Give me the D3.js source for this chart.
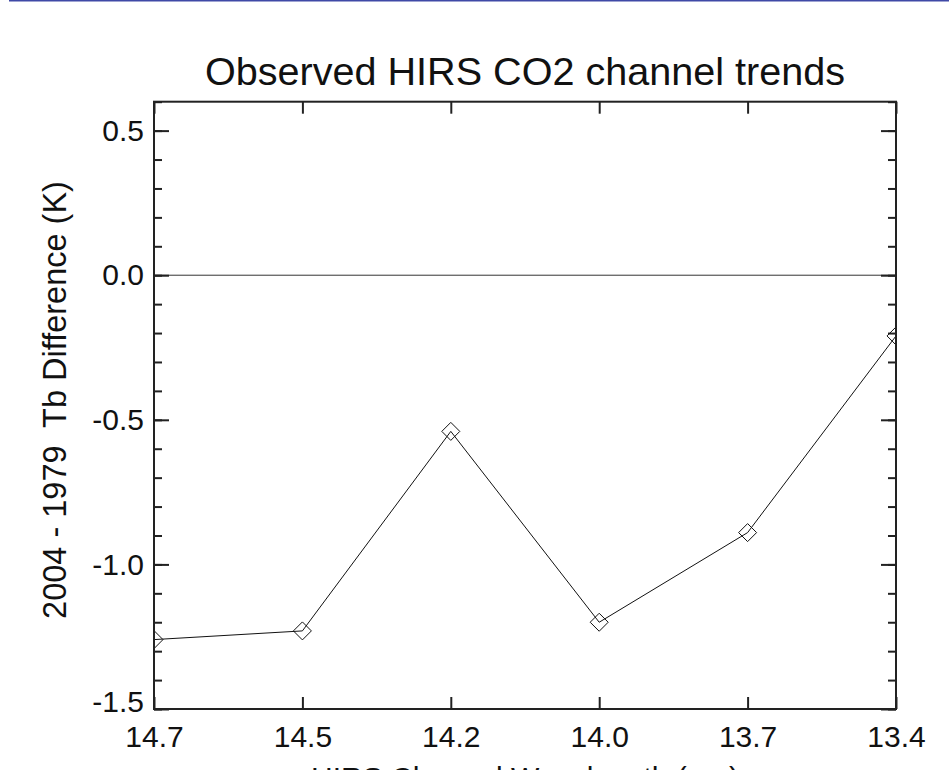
<!DOCTYPE html>
<html>
<head>
<meta charset="utf-8">
<script src="https://cdn.jsdelivr.net/npm/d3@7"></script>
<style>
  body { margin: 0; background: #fff; }
  text { font-family: "Liberation Sans", Arial, sans-serif; fill: #111; }
</style>
</head>
<body>
<script>
// HIRS channel wavelengths (um) and the 2004 - 1979 Tb difference (K)
var wavelengths = ["14.7", "14.5", "14.2", "14.0", "13.7", "13.4"];
var tbDiff = [-1.26, -1.23, -0.54, -1.20, -0.89, -0.21];
var yMajor = [-1.5, -1.0, -0.5, 0.0, 0.5];
var yMinor = d3.range(-15, 7).map(function(d) { return d / 10; });

var width = 949,
    height = 770,
    plotLeft = 154, plotRight = 896, plotTop = 101.7, plotBottom = 709;

var svg = d3.select("body").append("svg")
    .attr("width", width)
    .attr("height", height)
    .style("background", "#fff");

svg.append("clipPath")
    .attr("id", "plotclip")
  .append("rect")
    .attr("x", plotLeft).attr("y", plotTop)
    .attr("width", plotRight - plotLeft).attr("height", plotBottom - plotTop);

// thin blue rule along the top edge
svg.append("rect")
    .attr("x", 9).attr("y", 0)
    .attr("width", width - 9).attr("height", 1.5)
    .attr("fill", "#3f49a6");

var x = d3.scalePoint()
    .domain(wavelengths)
    .range([plotLeft, plotRight])
    .padding(0);

var y = d3.scaleLinear()
    .domain([-1.5, 0.6])
    .range([plotBottom, plotTop]);

function tidy(g) {
  g.select(".domain").remove();
  g.selectAll(".tick line").attr("stroke", "#222").attr("stroke-width", 2);
  g.selectAll("text").attr("font-size", 30).attr("fill", "#111")
    .style("font-family", "'Liberation Sans', Arial, sans-serif");
}

// zero line
svg.append("line")
    .attr("x1", plotLeft).attr("x2", plotRight)
    .attr("y1", y(0)).attr("y2", y(0))
    .attr("stroke", "#333").attr("stroke-width", 1);

// left axis: major + minor ticks
svg.append("g")
    .attr("transform", "translate(" + plotLeft + ",0)")
    .call(d3.axisLeft(y).tickValues(yMinor).tickSize(-8).tickFormat(""))
    .call(tidy);
svg.append("g")
    .attr("transform", "translate(" + plotLeft + ",0)")
    .call(d3.axisLeft(y).tickValues(yMajor).tickSize(-15).tickPadding(10)
      .tickFormat(function(d) { return d3.format(".1f")(d).replace("\u2212", "-"); }))
    .call(tidy)
    .selectAll("text")
    .attr("y", function(d) { return d === -1.5 ? -7 : 0; });

// right axis
svg.append("g")
    .attr("transform", "translate(" + plotRight + ",0)")
    .call(d3.axisRight(y).tickValues(yMinor).tickSize(-8).tickFormat(""))
    .call(tidy);
svg.append("g")
    .attr("transform", "translate(" + plotRight + ",0)")
    .call(d3.axisRight(y).tickValues(yMajor).tickSize(-15).tickFormat(""))
    .call(tidy);

// bottom and top axes
svg.append("g")
    .attr("transform", "translate(0," + plotBottom + ")")
    .call(d3.axisBottom(x).tickSize(-12).tickPadding(17))
    .call(tidy);
svg.append("g")
    .attr("transform", "translate(0," + plotTop + ")")
    .call(d3.axisTop(x).tickSize(-12).tickFormat(""))
    .call(tidy);

// series line and diamond markers, clipped to the plot box
var plot = svg.append("g").attr("clip-path", "url(#plotclip)");

var line = d3.line()
    .x(function(d, i) { return x(wavelengths[i]); })
    .y(function(d) { return y(d); });

plot.append("path")
    .datum(tbDiff)
    .attr("d", line)
    .attr("fill", "none")
    .attr("stroke", "#111")
    .attr("stroke-width", 1);

plot.selectAll(".pt")
    .data(tbDiff)
    .enter().append("path")
    .attr("class", "pt")
    .attr("transform", function(d, i) {
      return "translate(" + x(wavelengths[i]) + "," + y(d) + ")";
    })
    .attr("d", "M0,-9L9,0L0,9L-9,0Z")
    .attr("fill", "none")
    .attr("stroke", "#111")
    .attr("stroke-width", 1);

// frame
svg.append("rect")
    .attr("x", plotLeft).attr("y", plotTop)
    .attr("width", plotRight - plotLeft).attr("height", plotBottom - plotTop)
    .attr("fill", "none")
    .attr("stroke", "#222")
    .attr("stroke-width", 2);

// titles
svg.append("text")
    .attr("x", (plotLeft + plotRight) / 2)
    .attr("y", 85)
    .attr("text-anchor", "middle")
    .attr("font-size", 39.6)
    .text("Observed HIRS CO2 channel trends");

svg.append("text")
    .attr("transform", "translate(66,400) rotate(-90)")
    .attr("text-anchor", "middle")
    .attr("font-size", 32.5)
    .style("white-space", "pre")
    .text("2004 - 1979  Tb Difference (K)");

svg.append("text")
    .attr("x", (plotLeft + plotRight) / 2)
    .attr("y", 788)
    .attr("text-anchor", "middle")
    .attr("font-size", 30)
    .text("HIRS Channel Wavelength (\u03bcm)");
</script>
</body>
</html>
